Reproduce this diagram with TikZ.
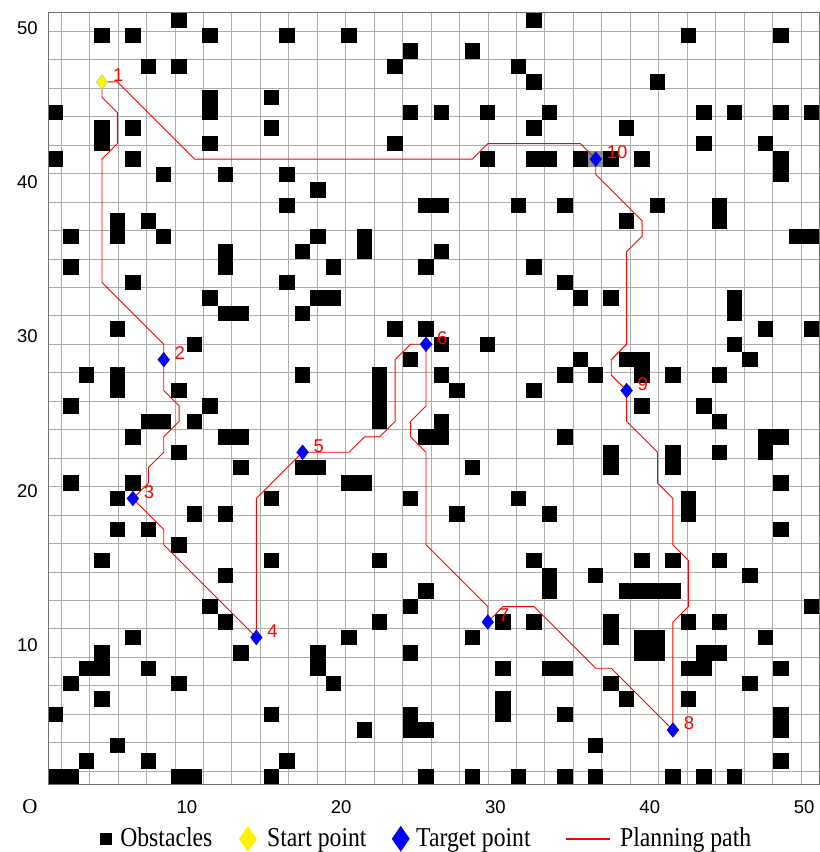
\documentclass[tikz,border=0pt]{standalone}
\usepackage{fontspec}
\setmainfont{Liberation Serif}
\setsansfont{Liberation Sans}
\usetikzlibrary{shapes.geometric}

\begin{document}
\begin{tikzpicture}[
    x=15.43pt, y=15.43pt,
    every node/.style={inner sep=0pt},
    gridline/.style={draw=black!32, line width=0.6pt},
    obst/.style={fill=black},
    route/.style={draw=red, line width=0.9pt},
    startpt/.style={diamond, fill=yellow, draw=cyan!50, line width=0.4pt, minimum width=12pt, minimum height=15pt},
    target/.style={diamond, fill=blue, draw=blue!70!black, line width=0.3pt, minimum width=12pt, minimum height=15pt},
    numlbl/.style={font=\sffamily\fontsize{18.5}{20}\selectfont, text=red, anchor=west},
    ticklbl/.style={font=\sffamily\fontsize{18.5}{20}\selectfont},
    legtxt/.style={font=\fontsize{23.7}{26}\selectfont, anchor=base west}
  ]
  \useasboundingbox (-2.111,-3.407) rectangle (50.97,51.81);
  % Map grid
  \draw[gridline] (1,1) grid (51,51);
  % Obstacles, row by row
  \foreach \row/\cols in {
      50/{9,32}, 49/{4,6,11,16,20,42,48}, 48/{24,28}, 47/{7,9,23,31},
      46/{32,40}, 45/{11,15}, 44/{1,11,24,26,29,33,43,45,48,50},
      43/{4,6,15,32,38}, 42/{4,11,23,43,47}, 41/{1,6,29,32,33,35,37,39,48},
      40/{8,12,16,48}, 39/{18}, 38/{16,25,26,31,34,40,44}, 37/{5,7,38,44},
      36/{2,5,8,18,21,49,50}, 35/{12,17,21,26}, 34/{2,12,19,25,32},
      33/{6,16,34}, 32/{11,18,19,35,37,45}, 31/{12,13,17,45},
      30/{5,23,25,47,50}, 29/{10,26,29,45}, 28/{24,35,38,39,46},
      27/{3,5,17,22,26,34,36,39,41,44}, 26/{5,9,22,27,32}, 25/{2,11,22,39,43},
      24/{7,8,10,22,26,44}, 23/{6,12,13,25,26,34,47,48}, 22/{9,37,41,44,47},
      21/{13,17,18,28,37,41}, 20/{2,6,20,21,48}, 19/{5,15,24,31,42},
      18/{10,12,27,33,42}, 17/{5,7,48}, 16/{9}, 15/{4,15,22,32,39,41,44},
      14/{12,33,36,46}, 13/{25,33,38,39,40,41}, 12/{11,24,50},
      11/{12,22,30,32,37,42,44}, 10/{6,20,28,37,39,40,47},
      9/{4,13,18,24,39,40,43,44}, 8/{3,4,7,18,30,33,34,42,43,48},
      7/{2,9,19,37,46}, 6/{4,30,38,42}, 5/{1,15,24,30,34,48},
      4/{21,24,25,48}, 3/{5,36}, 2/{3,7,16,48},
      1/{1,2,9,10,15,25,28,31,34,36,41,43,45}}
    {\foreach \col in \cols {\fill[obst] (\col,\row) rectangle ++(1,1);}}
  \fill[black!45] (36,41) rectangle ++(1,1);
  \draw[draw=black!55, line width=0.7pt] (1,1) rectangle (51,51);
  % Start and target points
  \coordinate (s) at (4.5,46.5);
  \foreach \n/\x/\y in {2/8.5/28.5, 3/6.5/19.5, 4/14.5/10.5, 5/17.5/22.5, 6/25.5/29.5,
      7/29.5/11.5, 8/41.5/4.5, 9/38.5/26.5, 10/36.5/41.5}
    \coordinate (p\n) at (\x,\y);
  % Planning path
  \draw[route] (s) -- (4.5,45.5) -- (5.5,44.5) -- (5.5,42.5) -- (4.5,41.5) -- (4.5,33.5)
    -- (8.5,29.5) -- (p2) -- (8.5,26.5) -- (9.5,25.5) -- (9.5,24.5) -- (8.5,23.5)
    -- (8.5,22.5) -- (7.5,21.5) -- (7.5,20.5) -- (p3) -- (8.5,17.5) -- (8.5,16.5)
    -- (p4) -- (14.5,19.5) -- (p5) -- (20.5,22.5) -- (21.5,23.5) -- (22.5,23.5)
    -- (23.5,24.5) -- (23.5,28.5) -- (24.5,29.5) -- (p6) -- (25.5,25.5) -- (24.5,24.5)
    -- (24.5,23.5) -- (25.5,22.5) -- (25.5,16.5) -- (29.5,12.5) -- (p7) -- (30.5,12.5)
    -- (32.5,12.5) -- (36.5,8.5) -- (37.5,8.5) -- (p8) -- (41.5,11.5) -- (42.5,12.5)
    -- (42.5,15.5) -- (41.5,16.5) -- (41.5,19.5) -- (40.5,20.5) -- (40.5,22.5)
    -- (38.5,24.5) -- (p9) -- (37.5,27.5) -- (37.5,28.5) -- (38.5,29.5) -- (38.5,35.5)
    -- (39.5,36.5) -- (39.5,37.5) -- (36.5,40.5) -- (p10) -- (35.5,42.5) -- (29.5,42.5)
    -- (28.5,41.5) -- (10.5,41.5) -- (5.5,46.5) -- (s);
  \node[startpt] (start) at (s) {};
  \node[numlbl] (l1) at (5.2,46.92) {1};
  \foreach \n/\x/\y in {2/8.5/28.5, 3/6.5/19.5, 4/14.5/10.5, 5/17.5/22.5, 6/25.5/29.5,
      7/29.5/11.5, 8/41.5/4.5, 9/38.5/26.5, 10/36.5/41.5}
    {\node[target] (t\n) at (p\n) {};
     \node[numlbl] (l\n) at (\x+0.7,\y+0.42) {\n};}
  % Axes
  \foreach \k in {10,20,30,40,50}
    {\node[ticklbl, anchor=east] (yt\k) at (0.35,\k) {\k};
     \node[ticklbl] (xt\k) at (\k,-0.47) {\k};}
  \node[font=\fontsize{21}{22}\selectfont] (orig) at (-0.17,-0.49) {O};
  % Legend
  \node[fill=black, minimum size=11.7pt] (lgobs) at (4.76,-2.56) {};
  \node[legtxt] (lgobstxt) at (5.67,-3.06) {\scalebox{1}[1.15]{Obstacles}};
  \node[startpt, draw=none, minimum width=18pt, minimum height=26pt] (lgstart) at (13.96,-2.55) {};
  \node[legtxt] (lgstarttxt) at (15.19,-3.06) {\scalebox{1}[1.15]{Start point}};
  \node[target, draw=none, minimum width=18pt, minimum height=26pt] (lgtarget) at (23.86,-2.55) {};
  \node[legtxt] (lgtargettxt) at (24.85,-3.06) {\scalebox{1}[1.15]{Target point}};
  \coordinate (lgpa) at (34.55,-2.56);
  \coordinate (lgpb) at (37.39,-2.56);
  \draw[route, line width=1.6pt] (lgpa) -- (lgpb);
  \node[legtxt] (lgpathtxt) at (38.07,-3.06) {\scalebox{1}[1.15]{Planning path}};
\end{tikzpicture}
\end{document}
